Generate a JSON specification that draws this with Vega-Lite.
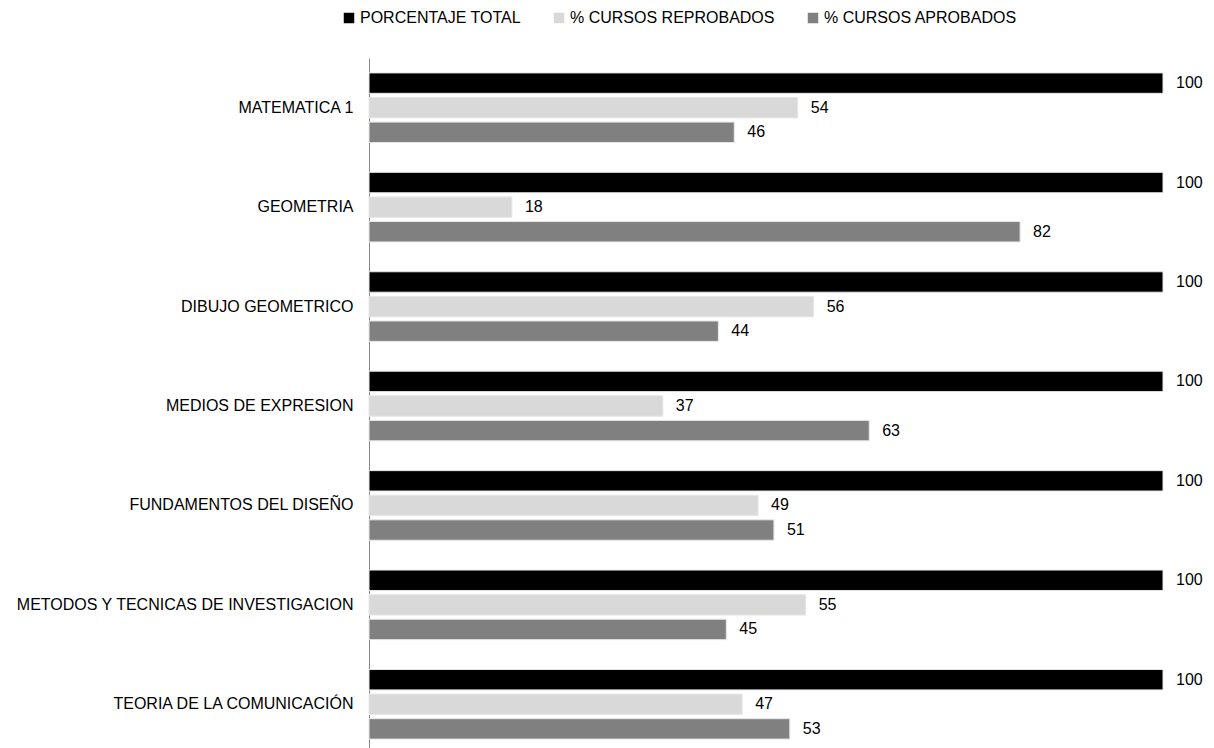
{
  "$schema": "https://vega.github.io/schema/vega-lite/v6.json",
  "width": 794,
  "height": 696,
  "autosize": {"type": "none"},
  "padding": {"left": 369, "top": 58, "right": 51, "bottom": 0},
  "background": "white",
  "config": {
    "font": "Liberation Sans",
    "view": {"stroke": null}
  },
  "data": {
    "values": [
      {"curso": "MATEMATICA 1", "serie": "PORCENTAJE TOTAL", "orden": 1, "valor": 100},
      {"curso": "MATEMATICA 1", "serie": "% CURSOS REPROBADOS", "orden": 2, "valor": 54},
      {"curso": "MATEMATICA 1", "serie": "% CURSOS APROBADOS", "orden": 3, "valor": 46},
      {"curso": "GEOMETRIA", "serie": "PORCENTAJE TOTAL", "orden": 1, "valor": 100},
      {"curso": "GEOMETRIA", "serie": "% CURSOS REPROBADOS", "orden": 2, "valor": 18},
      {"curso": "GEOMETRIA", "serie": "% CURSOS APROBADOS", "orden": 3, "valor": 82},
      {"curso": "DIBUJO GEOMETRICO", "serie": "PORCENTAJE TOTAL", "orden": 1, "valor": 100},
      {"curso": "DIBUJO GEOMETRICO", "serie": "% CURSOS REPROBADOS", "orden": 2, "valor": 56},
      {"curso": "DIBUJO GEOMETRICO", "serie": "% CURSOS APROBADOS", "orden": 3, "valor": 44},
      {"curso": "MEDIOS DE EXPRESION", "serie": "PORCENTAJE TOTAL", "orden": 1, "valor": 100},
      {"curso": "MEDIOS DE EXPRESION", "serie": "% CURSOS REPROBADOS", "orden": 2, "valor": 37},
      {"curso": "MEDIOS DE EXPRESION", "serie": "% CURSOS APROBADOS", "orden": 3, "valor": 63},
      {"curso": "FUNDAMENTOS DEL DISEÑO", "serie": "PORCENTAJE TOTAL", "orden": 1, "valor": 100},
      {"curso": "FUNDAMENTOS DEL DISEÑO", "serie": "% CURSOS REPROBADOS", "orden": 2, "valor": 49},
      {"curso": "FUNDAMENTOS DEL DISEÑO", "serie": "% CURSOS APROBADOS", "orden": 3, "valor": 51},
      {"curso": "METODOS Y TECNICAS DE INVESTIGACION", "serie": "PORCENTAJE TOTAL", "orden": 1, "valor": 100},
      {"curso": "METODOS Y TECNICAS DE INVESTIGACION", "serie": "% CURSOS REPROBADOS", "orden": 2, "valor": 55},
      {"curso": "METODOS Y TECNICAS DE INVESTIGACION", "serie": "% CURSOS APROBADOS", "orden": 3, "valor": 45},
      {"curso": "TEORIA DE LA COMUNICACIÓN", "serie": "PORCENTAJE TOTAL", "orden": 1, "valor": 100},
      {"curso": "TEORIA DE LA COMUNICACIÓN", "serie": "% CURSOS REPROBADOS", "orden": 2, "valor": 47},
      {"curso": "TEORIA DE LA COMUNICACIÓN", "serie": "% CURSOS APROBADOS", "orden": 3, "valor": 53}
    ]
  },
  "encoding": {
    "y": {
      "field": "curso",
      "type": "nominal",
      "sort": null,
      "scale": {"paddingInner": 0.3, "paddingOuter": 0.15},
      "axis": {
        "title": null,
        "ticks": false,
        "labelPadding": 16,
        "labelFontSize": 16,
        "labelColor": "#000000",
        "labelLimit": 400,
        "domainColor": "#868686",
        "domainWidth": 1,
        "grid": false
      }
    },
    "yOffset": {
      "field": "orden",
      "type": "ordinal",
      "scale": {"paddingInner": 0.17, "paddingOuter": 0}
    },
    "x": {
      "field": "valor",
      "type": "quantitative",
      "scale": {"domain": [0, 100]},
      "axis": null
    }
  },
  "layer": [
    {
      "mark": {"type": "bar", "stroke": "#e6e6e6", "strokeWidth": 1},
      "encoding": {
        "color": {
          "field": "serie",
          "type": "nominal",
          "sort": ["PORCENTAJE TOTAL", "% CURSOS REPROBADOS", "% CURSOS APROBADOS"],
          "scale": {
            "domain": ["PORCENTAJE TOTAL", "% CURSOS REPROBADOS", "% CURSOS APROBADOS"],
            "range": ["#000000", "#d9d9d9", "#808080"]
          },
          "legend": {
            "title": null,
            "orient": "none",
            "direction": "horizontal",
            "legendX": -28,
            "legendY": -48,
            "symbolType": "square",
            "symbolSize": 110,
            "symbolStrokeWidth": 0,
            "symbolOffset": 0,
            "labelOffset": 3,
            "labelFontSize": 16,
            "labelColor": "#000000",
            "labelLimit": 300,
            "columnPadding": 30
          }
        }
      }
    },
    {
      "mark": {"type": "text", "align": "left", "baseline": "middle", "dx": 13, "fontSize": 16, "color": "#000000"},
      "encoding": {
        "text": {"field": "valor", "type": "quantitative"}
      }
    }
  ]
}
